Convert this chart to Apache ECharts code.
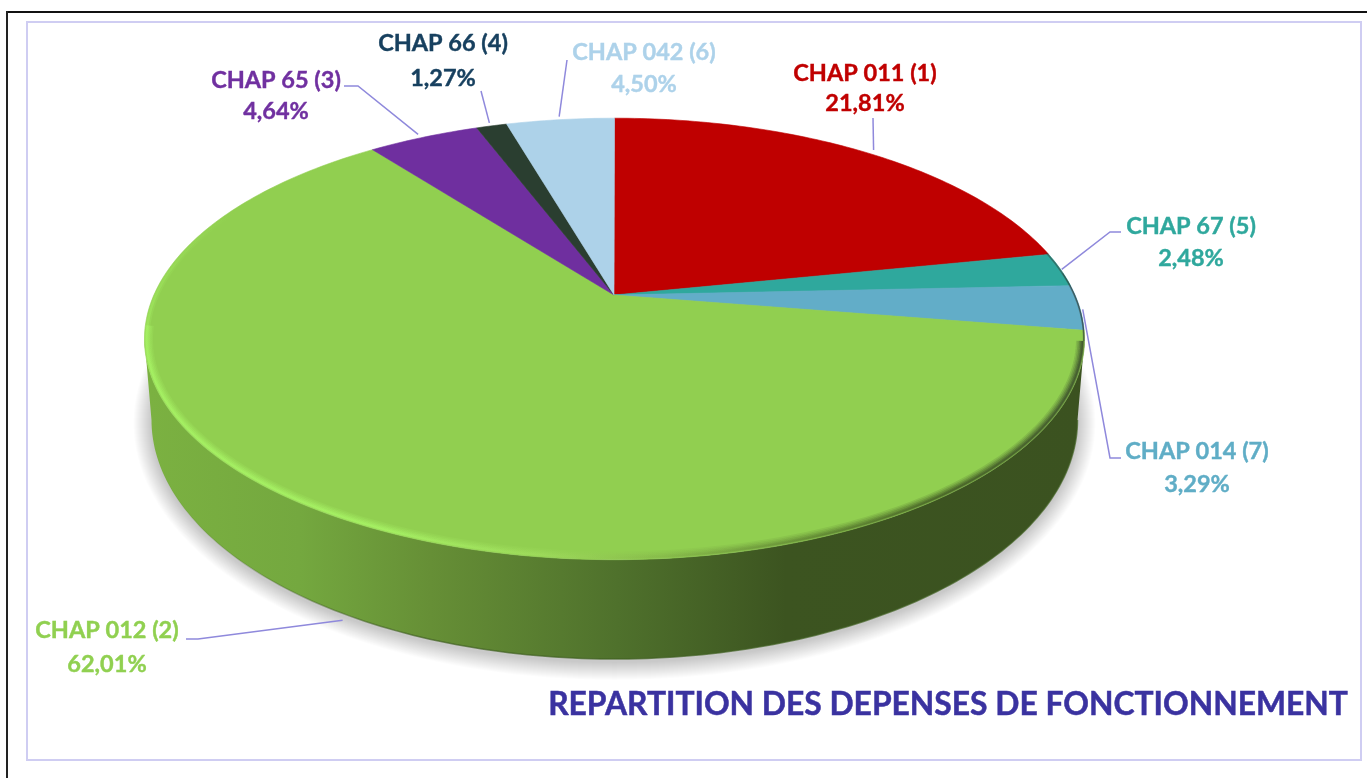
<!DOCTYPE html>
<html>
<head>
<meta charset="utf-8">
<style>html,body{margin:0;padding:0;background:#fff}#c{width:1367px;height:778px}</style>
<script src="https://cdn.jsdelivr.net/npm/echarts@6/dist/echarts.min.js"></script>
</head>
<body>
<div id="c"></div>
<script>
// ---- data ----
const categories = ['CHAP 011 (1)','CHAP 67 (5)','CHAP 014 (7)','CHAP 012 (2)','CHAP 65 (3)','CHAP 66 (4)','CHAP 042 (6)'];
const percentLabels = ['21,81%','2,48%','3,29%','62,01%','4,64%','1,27%','4,50%'];
const values = [21.81,2.48,3.29,62.01,4.64,1.27,4.50];
const chartTitle = 'REPARTITION DES DEPENSES DE FONCTIONNEMENT';
// ---- style ----
const faceColors = ['#bf0000','#2fa89d','#62adc8','#91cf50','#6f2f9f','#2a3e30','#add2e9'];
const textColors = ['#c00000','#2fa89d','#5fadc6','#90d050','#7030a0','#17405f','#add2ea'];
// ---- layout ----
const P = {cx:614.5, cy:295, a:-0.199, b:212, d:460.6, ecy:339, erx:470, ery:221,
           bcy:420, brx:463, bry:239, front0:101.5, front1:258.5};
const FONT = 'bold 23.5px Lato';
const labelLayout = [
 {name:[865,73], pct:[865,103], path:[[873,118]], off:[6,-2]},
 {name:[1191,226],pct:[1191,258],path:[[1110,232],[1121,232]]},
 {name:[1197,451],pct:[1197,484],path:[[1110,458],[1121,458]], off:[2,2]},
 {name:[107,630], pct:[107,664], path:[[198,639],[186,639]], off:[14,105]},
 {name:[276,80],  pct:[276,111], path:[[358,86],[344,86]], off:[-5,-2]},
 {name:[443,43],  pct:[443,78],  path:[[481,91]], off:[-2,-2]},
 {name:[644,52],  pct:[644,84],  path:[[567,60]], off:[-1,-2]}
];
const total = values.reduce((s,v)=>s+v,0);
const starts = [];
values.reduce((s,v,i)=>{starts[i]=s;return s+v;},0);
const toDeg = v => echarts.number.linearMap(v,[0,total],[0,360]);
const R = Math.PI/180;
function rim(t,inset){
  inset = inset||0;
  const u=Math.sin(t*R), v=-Math.cos(t*R), w=1+P.a*v;
  let x=P.cx+P.d*u/w, y=P.cy+P.b*v/w;
  x=P.cx+(x-P.cx)*(1-inset/P.erx);
  y=P.ecy+(y-P.ecy)*(1-inset/P.ery);
  return [x,y];
}
function ring(phi,grow){
  grow=grow||0;
  return [P.cx+(P.brx+grow)*Math.sin(phi*R), P.bcy-(P.bry+grow)*Math.cos(phi*R)];
}
function arc(t0,t1,inset){
  const n=Math.max(2,Math.ceil(Math.abs(t1-t0))), pts=[];
  for(let i=0;i<=n;i++) pts.push(rim(t0+(t1-t0)*i/n,inset));
  return pts;
}
function range(i){const t0=toDeg(starts[i]);return [t0,t0+toDeg(values[i])];}
const sideFill = {type:'linear',x:150,y:0,x2:1085,y2:0,global:true,colorStops:[
 {offset:0,color:'#7bb141'},{offset:.16,color:'#74a83f'},{offset:.30,color:'#668f36'},
 {offset:.50,color:'#4f712c'},{offset:.68,color:'#3c5420'},{offset:1,color:'#3b5220'}]};
const rimStroke = {type:'linear',x:145,y:0,x2:1085,y2:0,global:true,colorStops:[
 {offset:0,color:'#a8f566'},{offset:.25,color:'#a8f566'},{offset:.42,color:'#9fdc5c'},
 {offset:.55,color:'#86b84a'},{offset:.72,color:'#5b7f30'},{offset:.85,color:'#3f5622'},{offset:1,color:'#36482a'}]};
const fadeUp = {type:'linear',x:0,y:345,x2:0,y2:210,global:true,colorStops:[
 {offset:0,color:'rgba(168,245,102,1)'},{offset:1,color:'rgba(168,245,102,0)'}]};
const baseStroke = {type:'linear',x:150,y:0,x2:420,y2:0,global:true,colorStops:[
 {offset:0,color:'rgba(63,95,32,0)'},{offset:1,color:'rgba(63,95,32,0.85)'}]};

function renderShadow(params){
  if(params.dataIndex!==3) return;
  const children=[];
  for(let k=18;k>=1;k-=1){
    const pts=[];
    for(let p=0;p<360;p+=2){const q=ring(p,k);pts.push([q[0],q[1]+3]);}
    children.push({type:'polygon',shape:{points:pts},style:{fill:'rgba(0,0,0,0.0105)'}});
  }
  return {type:'group',children};
}
function renderSide(params){
  const [t0,t1]=range(params.dataIndex);
  const a=Math.max(t0,P.front0), b=Math.min(t1,P.front1);
  if(b<=a) return;
  const pts=arc(a,b,0), back=[];
  const n=Math.ceil(b-a);
  for(let i=0;i<=n;i++){
    const t=a+(b-a)*i/n;
    back.unshift(ring(90+(t-P.front0)*180/(P.front1-P.front0)));
  }
  return {type:'group',children:[
    {type:'polygon',shape:{points:pts.concat(back)},style:{fill:sideFill}},
    {type:'polyline',shape:{points:back},style:{fill:null,stroke:baseStroke,lineWidth:1.5,opacity:.8}}
  ]};
}
function renderTop(params){
  const i=params.dataIndex,[t0,t1]=range(i);
  const pts=[[P.cx-.5,P.cy]].concat(arc(t0,t1,0));
  return {type:'polygon',shape:{points:pts},style:{fill:faceColors[i],stroke:faceColors[i],lineWidth:.6}};
}
function renderRim(params){
  if(params.dataIndex!==3) return;
  const mk=(points,stroke,w,o)=>({type:'polyline',shape:{points},style:{fill:null,stroke,lineWidth:w,opacity:o,lineCap:'butt'}});
  const layers=[[9,4,.16],[7,3.5,.2],[5,3,.28],[3,2.5,.4],[1.5,2,.45]];
  const children=[];
  layers.forEach(l=>{children.push(mk(arc(102,262,l[1]),rimStroke,l[0],l[2]));});
  [[5,2.5,.25],[2.5,2,.45]].forEach(l=>{children.push(mk(arc(262,298,l[1]),fadeUp,l[0],l[2]));});
  // thin dark edge on the small slices at the right
  children.push(mk(arc(78,102,.8),'#2f3d38',1.6,.5));
  children.push(mk(arc(84,102,.5),'#2f3d38',1,.55));
  return {type:'group',children};
}
function renderLabels(params){
  const i=params.dataIndex,[t0,t1]=range(i),L=labelLayout[i];
  let p=rim((t0+t1)/2,-1);
  if(L.off) p=[p[0]+L.off[0],p[1]+L.off[1]];
  const txt=(t,pos)=>({type:'text',style:{text:t,x:pos[0],y:pos[1],fill:textColors[i],stroke:textColors[i],lineWidth:.4,font:FONT,align:'center',verticalAlign:'middle'}});
  return {type:'group',children:[
    {type:'polyline',shape:{points:[p].concat(L.path)},style:{fill:null,stroke:'#8f89dc',lineWidth:1.5}},
    txt(categories[i],L.name),txt(percentLabels[i],L.pct)
  ]};
}
const mkSeries=(renderItem,z)=>({type:'custom',coordinateSystem:'none',renderItem,data:values,z,silent:true,animation:false,clip:false});

const chart=echarts.init(document.getElementById('c'),null,{renderer:'canvas'});
chart.setOption({
  animation:false,backgroundColor:'#ffffff',tooltip:{show:false},
  title:{text:chartTitle,left:943,top:700,textAlign:'center',textVerticalAlign:'middle',
         textStyle:{fontFamily:'Lato',fontWeight:'bold',fontSize:31.8,color:'#3a32a0',textBorderColor:'#3a32a0',textBorderWidth:.5}},
  graphic:[
    {type:'rect',z:0,shape:{x:27,y:22,width:1334,height:738},style:{fill:'#fff',stroke:'#cfcdf2',lineWidth:2}},
    {type:'line',z:0,shape:{x1:6,y1:12,x2:1367,y2:12},style:{stroke:'#111',lineWidth:2}},
    {type:'line',z:0,shape:{x1:7,y1:11,x2:7,y2:778},style:{stroke:'#222',lineWidth:2}}
  ],
  series:[mkSeries(renderShadow,2),mkSeries(renderSide,3),mkSeries(renderTop,4),mkSeries(renderRim,5),mkSeries(renderLabels,6)]
});
</script>
</body>
</html>
